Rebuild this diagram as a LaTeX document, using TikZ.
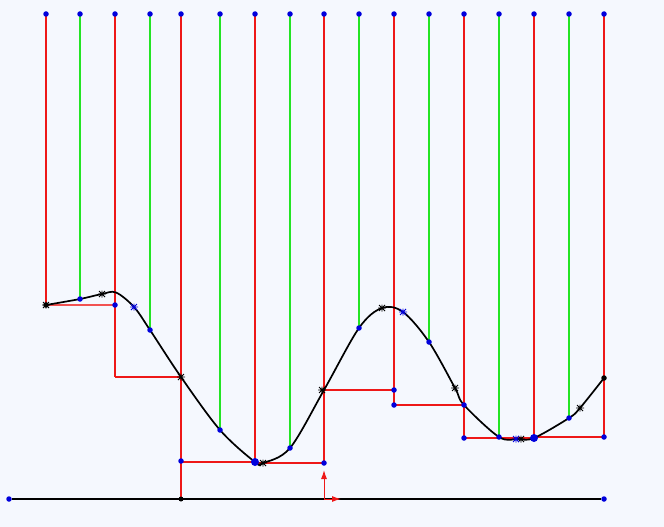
\documentclass[tikz,border=0pt]{standalone}
\usetikzlibrary{arrows.meta}
\definecolor{bgblue}{RGB}{245,248,254}
\definecolor{lred}{RGB}{238,24,24}
\definecolor{lgreen}{RGB}{36,228,36}
\definecolor{dotblue}{RGB}{0,0,220}
\tikzset{
  redline/.style = {draw=lred, line width=1.7pt},
  greenline/.style = {draw=lgreen, line width=1.7pt},
  dot/.style = {circle, fill=dotblue, inner sep=0pt, minimum size=5.5pt},
  bigdot/.style = {dot, minimum size=8pt},
  blackdot/.style = {dot, fill=black},
  starmark/.pic = {\draw[line width=0.9pt] (-4,0) -- (4,0) (-3,-3) -- (3,3) (-3,3) -- (3,-3) (0,-3.5) -- (0,3.5);}
}
\begin{document}
\begin{tikzpicture}[x=1pt, y=-1pt]
  \fill[bgblue] (0,0) rectangle (664,527);
  \useasboundingbox (0,0) rectangle (664,527);
  % vertical lines from the top row down
  \foreach \i/\x/\y/\s in {1/46/305/redline, 2/80/299/greenline, 3/115/377/redline,
      4/150/330/greenline, 5/181/499/redline, 6/220/430/greenline, 7/255/462/redline,
      8/290/448/greenline, 9/324/463/redline, 10/359/328/greenline, 11/394/405/redline,
      12/429/342/greenline, 13/464/438/redline, 14/499/437/greenline, 15/534/438/redline,
      16/569/418/greenline, 17/604/437/redline}{
    \coordinate (b\i) at (\x,\y);
    \draw[\s] (\x,14) -- (b\i);
    \node[dot] (t\i) at (\x,14) {};
  }
  % lower steps
  \draw[redline, draw=lred!75, line width=1.1pt] (b1) -- (115,305);
  \draw[redline] (b3) -- (181,377);
  \draw[redline] (181,462) -- (b7);
  \draw[redline] (255,463) -- (b9);
  \draw[redline] (324,390) -- (394,390);
  \draw[redline] (394,405) -- (464,405);
  \draw[redline] (b13) -- (b15);
  \draw[redline] (534,437) -- (b17);
  % curve
  \draw[line width=1.7pt] plot[smooth, tension=0.55] coordinates {(46,305) (80,299) (102,294)
    (116,292.5) (134,307) (150,330) (181,377) (220,430) (255,462) (263,463) (290,448)
    (324,390) (359,328) (382,308) (403,312) (429,342) (455,388) (464,405) (499,437)
    (518,439) (534,438) (569,418) (580,408) (604,378)};
  % axis
  \node[dot] (left) at (9,499) {};
  \node[dot] (right) at (604,499) {};
  \node[blackdot, minimum size=5pt] (foot) at (181,499) {};
  \draw[line width=2.2pt] (left) -- (right);
  \coordinate (orig) at (324,499);
  \coordinate (up) at (324,470);
  \coordinate (rt) at (341,499);
  \draw[lred, line width=1pt, -{Latex[length=9pt, width=6pt]}] (orig) -- (up);
  \draw[lred, line width=1pt, -{Latex[length=9pt, width=6pt]}] (orig) -- (rt);
  % points
  \foreach \p in {2,4,6,8,10,12,14,16,9,11,13,17}
    \node[dot] at (b\p) {};
  \node[dot] (s1) at (115,305) {};
  \node[dot] (s2) at (181,461) {};
  \node[dot] (s3) at (394,390) {};
  \node[dot] (s4) at (464,405) {};
  \node[bigdot] (m1) at (b7) {};
  \node[bigdot] (m2) at (534,438) {};
  \node[blackdot] (c0) at (b1) {};
  \node[blackdot] (c1) at (604,378) {};
  \foreach \x/\y in {46/305, 102/294, 181/377, 263/463, 322/390, 382/308, 455/388, 521/439, 580/408}
    \pic at (\x,\y) {starmark};
  \foreach \x/\y in {134/307, 403/312, 516/439}
    \pic[dotblue] at (\x,\y) {starmark};
\end{tikzpicture}
\end{document}
